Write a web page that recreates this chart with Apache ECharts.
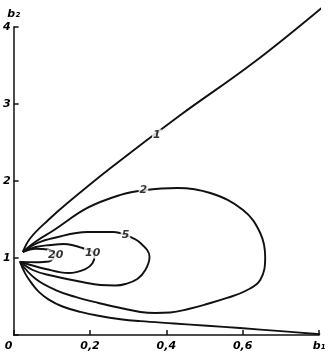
<!DOCTYPE html>
<html>
<head>
<meta charset="utf-8">
<script src="https://cdn.jsdelivr.net/npm/echarts@6/dist/echarts.min.js"></script>
<style>html,body{margin:0;padding:0;background:#fff;}#c{width:331px;height:357px;}</style>
</head>
<body>
<div id="c"></div>
<script>
// tick labels
const xTickLabels = {0: '0', 0.2: '0,2', 0.4: '0,4', 0.6: '0,6', 0.8: 'b₁'};
const yTickLabels = {1: '1', 2: '2', 3: '3', 4: '4'};

// curve 1 (two branches)
const curve1Upper = [[0.024,1.08],[0.044,1.26],[0.09,1.49],[0.141,1.714],[0.254,2.169],[0.437,2.857],[0.627,3.532],[0.816,4.286]];
const curve1Lower = [[0.016,0.96],[0.03,0.80],[0.046,0.68],[0.066,0.56],[0.092,0.46],[0.128,0.37],[0.175,0.30],[0.222,0.25],[0.28,0.205],[0.332,0.18],[0.42,0.15],[0.507,0.12],[0.593,0.09],[0.70,0.05],[0.803,0.01]];
// closed loops
const loop2 = [[0.024,1.08],[0.06,1.22],[0.105,1.36],[0.193,1.65],[0.28,1.82],[0.34,1.88],[0.429,1.91],[0.515,1.844],[0.601,1.623],[0.646,1.325],[0.659,1.013],[0.646,0.714],[0.607,0.571],[0.559,0.481],[0.507,0.403],[0.458,0.338],[0.410,0.292],[0.371,0.286],[0.332,0.299],[0.280,0.351],[0.222,0.416],[0.162,0.494],[0.110,0.584],[0.058,0.727],[0.018,0.935]];
const loop5 = [[0.024,1.078],[0.063,1.195],[0.105,1.26],[0.193,1.338],[0.261,1.338],[0.293,1.30],[0.332,1.195],[0.356,1.013],[0.345,0.844],[0.324,0.727],[0.293,0.662],[0.267,0.643],[0.227,0.649],[0.180,0.688],[0.092,0.779],[0.05,0.844],[0.018,0.948]];
const loop10 = [[0.024,1.078],[0.058,1.143],[0.097,1.169],[0.131,1.182],[0.180,1.13],[0.212,1.04],[0.207,0.935],[0.188,0.857],[0.144,0.805],[0.084,0.857],[0.018,0.948]];
const loop20 = [[0.024,1.08],[0.058,1.12],[0.089,1.11],[0.108,1.04],[0.092,0.955],[0.058,0.945],[0.018,0.95]];
// curve labels [b1, b2, text]
const curveLabels = [[0.375,2.6,'1'],[0.34,1.88,'2'],[0.293,1.30,'5'],[0.207,1.065,'10'],[0.11,1.04,'20']];

const chart = echarts.init(document.getElementById('c'), null, {renderer: 'canvas'});
const font = {fontFamily: 'DejaVu Sans', fontStyle: 'italic', fontWeight: 'bold', fontSize: 11, color: '#000'};
const lineStyle = {color: '#111', width: 1.9};
function mk(data, clip) {
  return {type: 'line', data: data, smooth: 0.4, symbol: 'none', lineStyle: lineStyle, clip: !!clip, z: 2};
}
chart.setOption({
  animation: false,
  backgroundColor: '#fff',
  grid: {left: 13, right: 12, top: 27, bottom: 22},
  xAxis: {
    type: 'value', min: 0, max: 0.8, interval: 0.2,
    axisLine: {show: true, lineStyle: {color: '#111', width: 1.5}},
    axisTick: {show: true, inside: true, length: 5, lineStyle: {color: '#111', width: 1.5}},
    splitLine: {show: false},
    axisLabel: Object.assign({}, font, {
      margin: 6, showMinLabel: true, showMaxLabel: true,
      formatter: function (v) {
        const k = Math.round(v * 10) / 10;
        const t = xTickLabels[k] || '';
        if (k === 0) return '{o|' + t + '}';
        return t;
      },
      rich: {
        o: Object.assign({}, font, {padding: [0, 10, 0, 0]})
      }
    })
  },
  yAxis: {
    type: 'value', min: 0, max: 4, interval: 1,
    name: 'b₂', nameLocation: 'end', nameGap: 7,
    nameTextStyle: Object.assign({}, font, {align: 'center'}),
    axisLine: {show: true, lineStyle: {color: '#111', width: 1.5}},
    axisTick: {show: true, inside: true, length: 5, lineStyle: {color: '#111', width: 1.5}},
    splitLine: {show: false},
    axisLabel: Object.assign({}, font, {margin: 3, formatter: function (v) { return yTickLabels[v] || ''; }})
  },
  series: [
    mk(curve1Upper, false),
    mk(curve1Lower, false),
    mk(loop2), mk(loop5), mk(loop10), mk(loop20),
    {
      type: 'scatter', symbolSize: 0, z: 5, clip: false,
      data: curveLabels.map(function (d) { return {value: [d[0], d[1]], name: d[2]}; }),
      label: Object.assign({}, font, {show: true, position: 'inside', formatter: '{b}', color: '#000', backgroundColor: '#fff', padding: [0, 1]})
    }
  ]
});
</script>
</body>
</html>
